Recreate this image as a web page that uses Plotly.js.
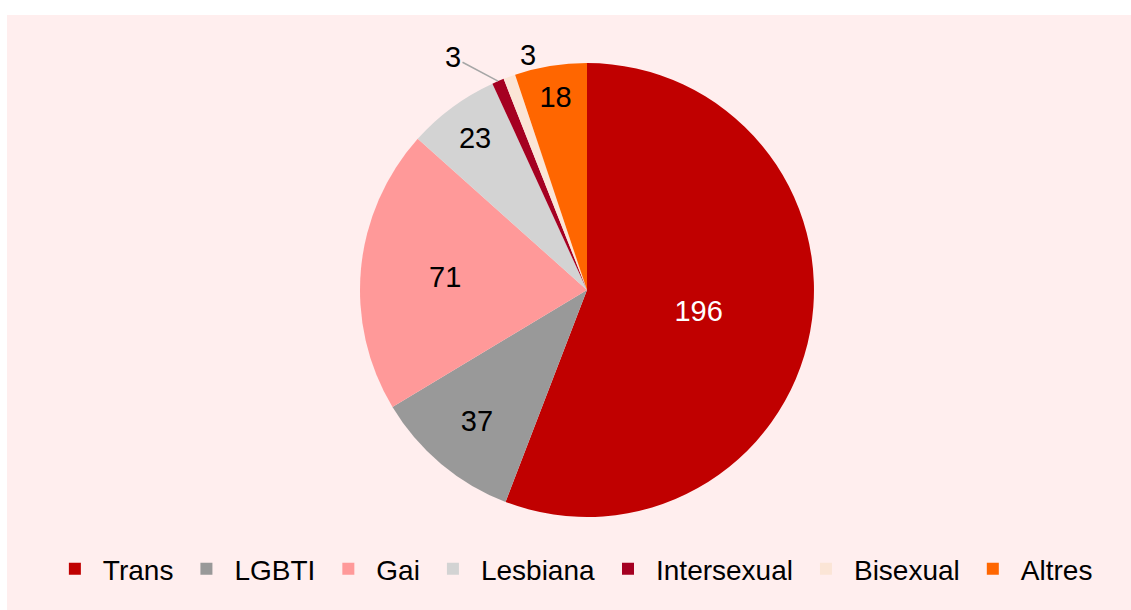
<!DOCTYPE html>
<html>
<head>
<meta charset="utf-8">
<script src="https://cdn.plot.ly/plotly-3.0.1.min.js"></script>
<style>
  html, body { margin: 0; padding: 0; background: #ffffff; width: 1131px; height: 610px; overflow: hidden; }
  #chart { position: absolute; left: 7px; top: 15px; width: 1124px; height: 595px; }
</style>
</head>
<body>
<div id="chart"></div>
<script>
const categories = ["Trans", "LGBTI", "Gai", "Lesbiana", "Intersexual", "Bisexual", "Altres"];
const values = [196, 37, 71, 23, 3, 3, 18];
const colors = ["#C00000", "#999999", "#FF9999", "#D3D3D3", "#A50021", "#FBE5D6", "#FF6600"];
const textColors = ["#FFFFFF", "#000000", "#000000", "#000000", "#000000", "#000000", "#000000"];
// slices whose value is written outside the pie, with a visible leader line or not
const outsideLabel = [false, false, false, false, true, true, false];
const leaderLine = [false, false, false, false, true, false, false];

const W = 1124, H = 595;
const domX = [0.314, 0.718], domY = [0.1563, 0.9193];
const FONT = "Liberation Sans, Arial, sans-serif";

const trace = {
  type: "pie",
  labels: categories,
  values: values,
  sort: false,
  direction: "clockwise",
  rotation: 0,
  marker: { colors: colors, line: { width: 0 } },
  text: values.map((v, i) => outsideLabel[i] ? "" : String(v)),
  textinfo: "text",
  textposition: values.map((v, i) => outsideLabel[i] ? "none" : "inside"),
  insidetextorientation: "horizontal",
  textfont: { family: FONT, size: 29, color: textColors },
  hoverinfo: "label+value",
  domain: { x: domX, y: domY }
};

// annotations for the small outside slices: anchored at the slice's outer edge (from the data)
const total = values.reduce((a, b) => a + b, 0);
const cxPx = W * (domX[0] + domX[1]) / 2;
const cyPx = H * (1 - (domY[0] + domY[1]) / 2);
const rPx = Math.min(W * (domX[1] - domX[0]), H * (domY[1] - domY[0])) / 2;
const annotations = [];
let cum = 0;
values.forEach((v, i) => {
  const mid = (cum + v / 2) / total * 2 * Math.PI;
  cum += v;
  if (!outsideLabel[i]) return;
  const px = cxPx + rPx * Math.sin(mid);
  const py = cyPx - rPx * Math.cos(mid);
  const a = {
    xref: "paper", yref: "paper",
    x: px / W, y: 1 - py / H,
    text: String(v),
    font: { family: FONT, size: 29, color: "#000000" },
    showarrow: true, arrowhead: 0, standoff: 0
  };
  if (leaderLine[i]) {
    Object.assign(a, { arrowwidth: 1.5, arrowcolor: "#A6A6A6", ax: -45, ay: -24 });
  } else {
    Object.assign(a, { arrowwidth: 0.1, arrowcolor: "rgba(0,0,0,0)", ax: 19, ay: -22 });
  }
  annotations.push(a);
});

const layout = {
  width: W,
  height: H,
  margin: { l: 0, r: 0, t: 0, b: 0 },
  paper_bgcolor: "#FFEEEE",
  plot_bgcolor: "#FFEEEE",
  showlegend: true,
  annotations: annotations,
  legend: {
    orientation: "h",
    x: 0.503,
    xanchor: "center",
    y: 0.069,
    yanchor: "middle",
    font: { family: FONT, size: 28, color: "#000000" },
    itemwidth: 46,
    bgcolor: "rgba(0,0,0,0)"
  }
};

Plotly.newPlot("chart", [trace], layout, { staticPlot: true, displayModeBar: false });
</script>
</body>
</html>
